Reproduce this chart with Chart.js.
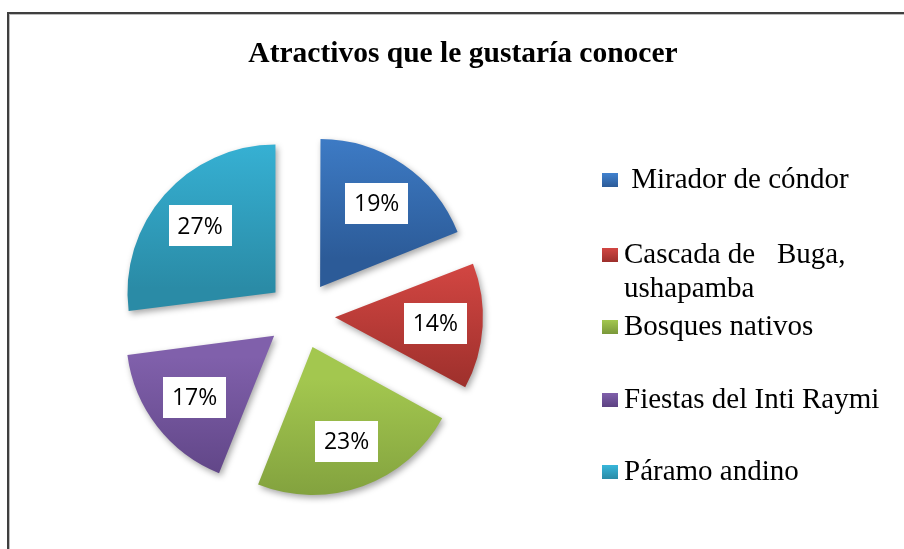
<!DOCTYPE html>
<html>
<head>
<meta charset="utf-8">
<script src="https://cdn.jsdelivr.net/npm/chart.js@4.4.1/dist/chart.umd.min.js"></script>
<style>
html,body{margin:0;padding:0;background:#fff;overflow:hidden}
canvas{display:block}
</style>
</head>
<body>
<canvas id="c" width="904" height="549"></canvas>
<script>
// ---- data ----
const TITLE = 'Atractivos que le gustaría conocer';
const categories = [' Mirador de cóndor', ['Cascada de   Buga,', 'ushapamba'], 'Bosques nativos', 'Fiestas del Inti Raymi', 'Páramo andino'];
const values = [19, 14, 23, 17, 27];
const valueLabels = ['19%', '14%', '23%', '17%', '27%'];

// ---- styles ----
const topColors    = ['#4182CF', '#D24642', '#A3C74F', '#8060AB', '#38B6DA'];
const bottomColors = ['#2C5B98', '#9C2F2B', '#7A983A', '#5C4282', '#2A8BA6'];

// ---- layout ----
const W = 904, H = 549;
const CENTER = {x: 301, y: 315};
const RADIUS = 148;
const EXPLODE = 34;                 // visible shift of each slice
const OFFSET = EXPLODE * 4;         // Chart.js v4 translates arcs by offset/4
const SIDE = 2 * RADIUS + OFFSET;
const PAD = {
  left: CENTER.x - SIDE / 2,
  top: CENTER.y - SIDE / 2,
  right: W - (CENTER.x + SIDE / 2),
  bottom: H - (CENTER.y + SIDE / 2)
};
const LEGEND = {boxX: 602, boxW: 16, boxH: 14, textX: 624, baselines: [188, 263, 335, 408, 480], lineHeight: 34,
  font: '29px "Liberation Serif", "Times New Roman", serif'};
const TITLE_STYLE = {x: 463, y: 62, font: 'bold 29.5px "Liberation Serif", "Times New Roman", serif'};
const LABEL_STYLE = {w: 63, h: 41, frac: 0.68, font: '23px "Open Sans", "Noto Sans", sans-serif'};

function sliceGeom(chart, i) {
  const a = chart.chartArea;
  const cx = (a.left + a.right) / 2, cy = (a.top + a.bottom) / 2;
  const data = chart.data.datasets[0].data;
  const total = data.reduce((s, v) => s + v, 0);
  let cum = 0;
  for (let j = 0; j < i; j++) cum += data[j];
  const start = -Math.PI / 2 + cum / total * 2 * Math.PI;
  const end = start + data[i] / total * 2 * Math.PI;
  const h = (start + end) / 2;
  const r = (Math.min(a.width, a.height) - OFFSET) / 2;
  const ax = cx + Math.cos(h) * OFFSET / 4, ay = cy + Math.sin(h) * OFFSET / 4;
  const ys = [ay, ay + r * Math.sin(start), ay + r * Math.sin(end)];
  [-Math.PI / 2, Math.PI / 2, 3 * Math.PI / 2].forEach(t => {
    if (t >= start && t <= end) ys.push(ay + r * Math.sin(t));
  });
  return {ymin: Math.min(...ys), ymax: Math.max(...ys)};
}

function sliceColor(ctx) {
  const chart = ctx.chart;
  if (!chart.chartArea) return topColors[ctx.dataIndex];
  const g = sliceGeom(chart, ctx.dataIndex);
  const grad = chart.ctx.createLinearGradient(0, g.ymin, 0, g.ymax);
  grad.addColorStop(0, topColors[ctx.dataIndex]);
  grad.addColorStop(1, bottomColors[ctx.dataIndex]);
  return grad;
}

const decor = {
  id: 'decor',
  beforeDraw(chart) {
    const c = chart.ctx;
    c.save();
    c.fillStyle = '#ffffff';
    c.fillRect(0, 0, W, H);
    c.fillStyle = '#3f3f3f';
    c.fillRect(7, 12, 2, H - 12);
    c.fillRect(7, 12, W - 7, 2);
    c.fillStyle = '#bdbdbd';
    c.fillRect(9, 14, 1, H - 14);
    c.fillRect(9, 14, W - 9, 1);
    c.restore();
  },
  afterDatasetsUpdate(chart) {
    chart.getDatasetMeta(0).data.forEach(el => {
      const o = (el.options.offset || 0) / 4;
      const fix = 1 - Math.sin(Math.min(Math.PI, el.circumference));
      el.outerRadius -= o * fix;
    });
  },
  beforeDatasetsDraw(chart) {
    const c = chart.ctx;
    c.save();
    c.shadowColor = 'rgba(0,0,0,0.35)';
    c.shadowBlur = 6;
    c.shadowOffsetX = 2;
    c.shadowOffsetY = 3;
  },
  afterDatasetsDraw(chart) {
    const c = chart.ctx;
    c.restore();
    c.save();
    chart.getDatasetMeta(0).data.forEach((el, i) => {
      const h = (el.startAngle + el.endAngle) / 2;
      const o = (el.options.offset || 0) / 4;
      const d = o + LABEL_STYLE.frac * RADIUS;
      const x = el.x + Math.cos(h) * d, y = el.y + Math.sin(h) * d;
      c.fillStyle = '#ffffff';
      c.fillRect(Math.round(x - LABEL_STYLE.w / 2), Math.round(y - LABEL_STYLE.h / 2), LABEL_STYLE.w, LABEL_STYLE.h);
      c.fillStyle = '#000000';
      c.font = LABEL_STYLE.font;
      c.textAlign = 'center';
      c.textBaseline = 'middle';
      c.fillText(valueLabels[i], x, y + 1);
    });
    c.restore();
  },
  afterDraw(chart) {
    const c = chart.ctx;
    c.save();
    c.fillStyle = '#000000';
    c.font = TITLE_STYLE.font;
    c.textAlign = 'center';
    c.textBaseline = 'alphabetic';
    c.fillText(TITLE, TITLE_STYLE.x, TITLE_STYLE.y);
    c.font = LEGEND.font;
    c.textAlign = 'left';
    chart.data.labels.forEach((lab, i) => {
      const b = LEGEND.baselines[i];
      const top = b - LEGEND.boxH - 1;
      const g = c.createLinearGradient(0, top, 0, top + LEGEND.boxH);
      g.addColorStop(0, topColors[i]);
      g.addColorStop(1, bottomColors[i]);
      c.fillStyle = g;
      c.fillRect(LEGEND.boxX, top, LEGEND.boxW, LEGEND.boxH);
      c.fillStyle = '#000000';
      const lines = Array.isArray(lab) ? lab : [lab];
      lines.forEach((ln, k) => c.fillText(ln, LEGEND.textX, b + k * LEGEND.lineHeight));
    });
    c.restore();
  }
};

new Chart(document.getElementById('c'), {
  type: 'pie',
  data: {
    labels: categories,
    datasets: [{
      data: values,
      backgroundColor: sliceColor,
      borderWidth: 0,
      offset: OFFSET
    }]
  },
  options: {
    responsive: false,
    animation: false,
    events: [],
    layout: {padding: PAD},
    plugins: {
      legend: {display: false},
      title: {display: false},
      tooltip: {enabled: false}
    }
  },
  plugins: [decor]
});
</script>
</body>
</html>
